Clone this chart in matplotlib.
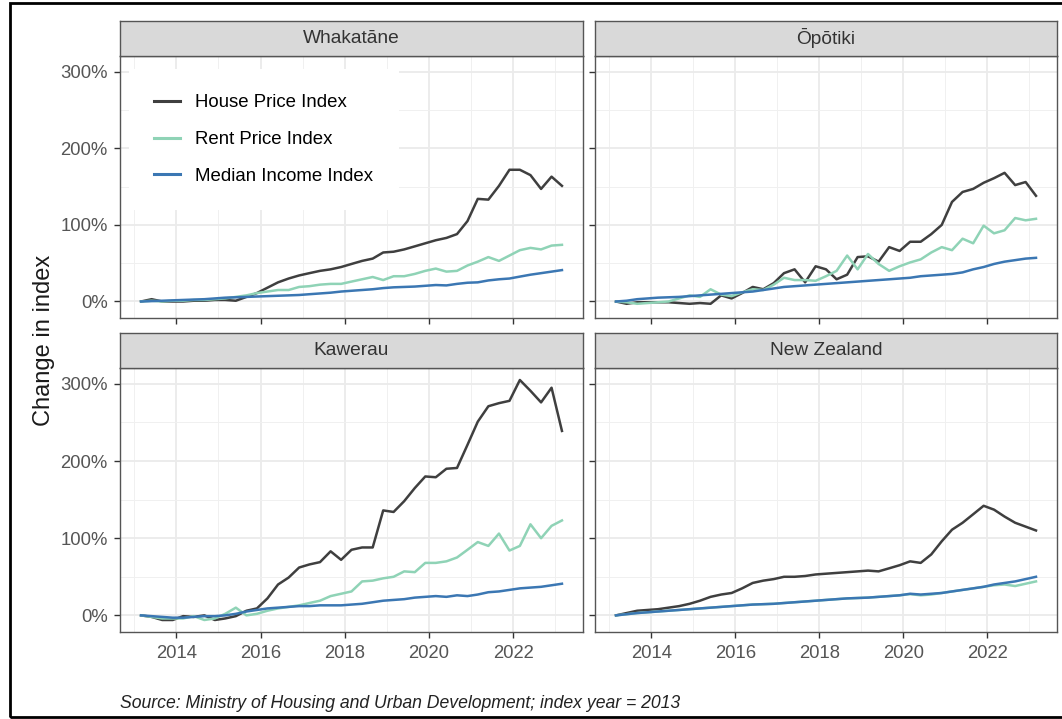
import numpy as np
import pandas as pd
import matplotlib
matplotlib.use("Agg")
import matplotlib.pyplot as plt
from matplotlib.ticker import FuncFormatter, MultipleLocator, FixedLocator

plt.rcParams["font.family"] = ["Liberation Sans", "DejaVu Sans"]

# quarterly observations, March 2013 to March 2023 (index year = 2013)
quarters = pd.date_range("2013-03-01", "2023-03-01", freq="3MS")
years = np.asarray(quarters.year + (quarters.dayofyear - 1) / 365.25)

regions = ["Whakatāne", "Ōpōtiki", "Kawerau", "New Zealand"]
series_names = ["House Price Index", "Rent Price Index", "Median Income Index"]
series_colors = ["#3f3f3f", "#8fd3b6", "#3b77b3"]

# % change since 2013
whakatane_house = [0, 3, 0, 0, 0, 1, 1, 2, 2, 1, 6, 11, 18, 25, 30, 34, 37, 40, 42, 45, 49,
                   53, 56, 64, 65, 68, 72, 76, 80, 83, 88, 105, 134, 133, 151, 172, 172, 165,
                   147, 163, 151]
whakatane_rent = [0, 1, 0, 1, 1, 2, 2, 3, 4, 6, 8, 11, 13, 15, 15, 19, 20, 22, 23, 23, 26,
                  29, 32, 28, 33, 33, 36, 40, 43, 39, 40, 47, 52, 58, 53, 60, 67, 70, 68, 73, 74]
whakatane_income = [0, 0.5, 1, 1.5, 2, 2.5, 3, 4, 5, 5.5, 6, 6.5, 7, 7.5, 8, 8.5, 9.5, 10.5,
                    11.5, 13, 14, 15, 16, 17.5, 18.5, 19, 19.5, 20.5, 21.5, 21, 23, 24.5, 25,
                    27.5, 29, 30, 32.5, 35, 37, 39, 41]

opotiki_house = [0, -3, -1, -1, -1, -1, -2, -3, -2, -3, 8, 4, 11, 19, 16, 24, 37, 42, 25, 46,
                 42, 29, 35, 58, 59, 52, 71, 66, 78, 78, 88, 100, 130, 143, 147, 155, 161, 168,
                 152, 156, 138]
opotiki_rent = [0, -1, -3, -2, -1, 0, 4, 8, 6, 16, 9, 7, 12, 16, 15, 22, 31, 28, 28, 27, 33,
                40, 60, 42, 62, 49, 40, 46, 51, 55, 64, 71, 67, 82, 76, 99, 89, 93, 109, 106, 108]
opotiki_income = [0, 1, 3, 4, 5, 5.5, 6, 7, 8, 9, 10, 11, 12, 13, 15, 17, 19, 20, 21, 22, 23,
                  24, 25, 26, 27, 28, 29, 30, 31, 33, 34, 35, 36, 38, 42, 45, 49, 52, 54, 56, 57]

kawerau_house = [0, -2, -6, -6, -1, -2, 0, -6, -4, -1, 6, 9, 22, 40, 49, 62, 66, 69, 83, 72,
                 85, 88, 88, 136, 134, 148, 165, 180, 179, 190, 191, 221, 251, 271, 275, 278,
                 305, 291, 276, 295, 239]
kawerau_rent = [0, -2, -4, -4, -4, -1, -6, -4, 2, 10, 0, 2, 6, 9, 11, 13, 16, 19, 25, 28, 31,
                44, 45, 48, 50, 57, 56, 68, 68, 70, 75, 85, 95, 90, 106, 84, 90, 118, 100, 116, 123]
kawerau_income = [0, -1, -2, -3, -3, -2, -1, -1, 0, 2, 5, 7, 9, 10, 11, 12, 12, 13, 13, 13,
                  14, 15, 17, 19, 20, 21, 23, 24, 25, 24, 26, 25, 27, 30, 31, 33, 35, 36, 37, 39, 41]

nz_house = [0, 3, 6, 7, 8, 10, 12, 15, 19, 24, 27, 29, 35, 42, 45, 47, 50, 50, 51, 53, 54, 55,
            56, 57, 58, 57, 61, 65, 70, 68, 79, 96, 111, 120, 131, 142, 137, 128, 120, 115, 110]
nz_rent = [0, 1.5, 3, 4, 5, 6, 7, 8, 9, 10, 11, 12, 13, 14, 14.5, 15, 16, 17, 18, 19, 20, 21,
           22, 22.5, 23, 24, 25, 26, 27.5, 26, 27, 29, 31, 33, 35, 37, 39, 40, 38, 41, 44]
nz_income = [0, 1.5, 3, 4, 5, 6, 7, 8, 9, 10, 11, 12, 13, 14, 14.5, 15, 16, 17, 18, 19, 20, 21,
             22, 22.5, 23, 24, 25, 26, 28, 27, 28, 29, 31, 33, 35, 37, 40, 42, 44, 47, 50]

data = {
    "Whakatāne": [whakatane_house, whakatane_rent, whakatane_income],
    "Ōpōtiki": [opotiki_house, opotiki_rent, opotiki_income],
    "Kawerau": [kawerau_house, kawerau_rent, kawerau_income],
    "New Zealand": [nz_house, nz_rent, nz_income],
}

# shared scales with 5% padding, like facet_wrap defaults
all_vals = np.concatenate([np.ravel(v) for v in data.values()])
ypad = 0.05 * (all_vals.max() - all_vals.min())
ylim = (all_vals.min() - ypad, all_vals.max() + ypad)
xpad = 0.05 * (years[-1] - years[0])
xlim = (years[0] - xpad, years[-1] + xpad)

W, H = 1062, 719
fig = plt.figure(figsize=(W / 100, H / 100), dpi=100)


def box(l, t, r, b):
    return [l / W, 1 - b / H, (r - l) / W, (b - t) / H]


# (left, right, top, bottom) of each panel in pixels
panels = [(120, 583, 56, 318), (595, 1057, 56, 318),
          (120, 583, 368, 632), (595, 1057, 368, 632)]
strip_h = 35

for k, (region, (l, r, t, b)) in enumerate(zip(regions, panels)):
    ax = fig.add_axes(box(l, t, r, b))
    for name, vals, col in zip(series_names, data[region], series_colors):
        ax.plot(years, vals, color=col, lw=1.8, label=name, solid_joinstyle="round")
    ax.set_xlim(xlim)
    ax.set_ylim(ylim)
    ax.xaxis.set_major_locator(MultipleLocator(2))
    ax.xaxis.set_minor_locator(FixedLocator([2013, 2015, 2017, 2019, 2021, 2023]))
    ax.yaxis.set_major_locator(MultipleLocator(100))
    ax.yaxis.set_minor_locator(MultipleLocator(50))
    ax.yaxis.set_major_formatter(FuncFormatter(lambda v, _: f"{v:.0f}%"))
    ax.grid(which="major", color="#ebebeb", lw=1.3)
    ax.grid(which="minor", color="#f0f0f0", lw=0.7)
    ax.set_axisbelow(True)
    for sp in ax.spines.values():
        sp.set_color("#555555")
        sp.set_linewidth(1.0)
    ax.tick_params(which="major", length=4, width=1, color="#333333",
                   labelcolor="#555555", labelsize=13.3, pad=5)
    ax.tick_params(which="minor", length=0)
    if k % 2 == 1:
        ax.tick_params(labelleft=False)
    if k < 2:
        ax.tick_params(labelbottom=False)

    if k == 0:
        leg = ax.legend(loc="upper left", bbox_to_anchor=(0.0, 0.985), fontsize=13.4,
                        frameon=True, facecolor="white", edgecolor="none", framealpha=1,
                        handlelength=1.35, handletextpad=0.85, labelspacing=1.06,
                        borderpad=1.35, fancybox=False)
        for line in leg.get_lines():
            line.set_linewidth(2.2)

    st = fig.add_axes(box(l, t - strip_h, r, t))
    st.set_facecolor("#d9d9d9")
    st.set_xticks([])
    st.set_yticks([])
    for sp in st.spines.values():
        sp.set_color("#555555")
        sp.set_linewidth(1.0)
    st.text(0.5, 0.5, region, ha="center", va="center", fontsize=13.8,
            color="#333333", transform=st.transAxes)

fig.text(44 / W, 1 - 340 / H, "Change in index", rotation=90, ha="center", va="center",
         fontsize=17, color="#1a1a1a")
fig.text(120 / W, 1 - 703 / H,
         "Source: Ministry of Housing and Urban Development; index year = 2013",
         ha="left", va="center", fontsize=12.7, style="italic", color="#222222")

fig.add_artist(plt.Rectangle((10 / W, 1 - 717 / H), 1.0, (717 - 3) / H, fill=False,
                             lw=2, ec="black", transform=fig.transFigure))

fig.savefig("out.png", dpi=100)
